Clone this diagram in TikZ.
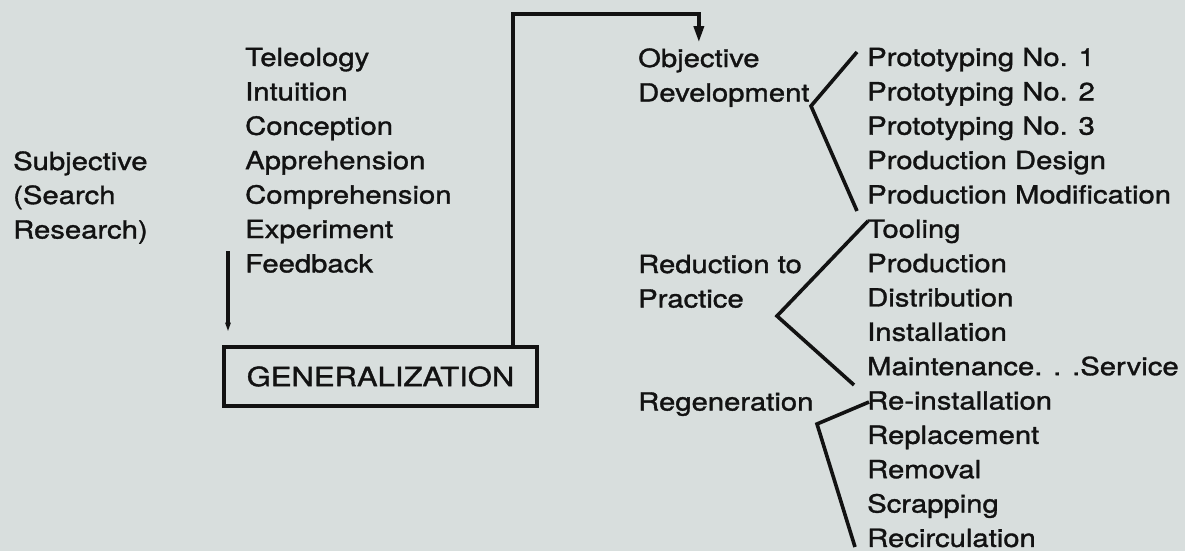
\documentclass[tikz,border=0pt]{standalone}
\usepackage{fontspec}
\setmainfont[FakeStretch=1.17, FakeBold=1.3]{TeX Gyre Heros}
\usetikzlibrary{arrows.meta}
\definecolor{paper}{RGB}{216,222,221}
\definecolor{ink}{RGB}{18,18,18}

\begin{document}
\begin{tikzpicture}[x=1pt,y=-1pt,
  lbl/.style={anchor=base west, inner sep=0pt, text=ink,
              font=\fontsize{25}{30}\selectfont},
  conn/.style={draw=ink, line width=3.4pt},
  brace/.style={draw=ink, line width=3.6pt, line join=miter},
  genbox/.style={draw=ink, line width=4.6pt, minimum width=313pt,
                 minimum height=59pt, inner sep=0pt, text=ink,
                 font=\fontsize{26.5}{30}\selectfont}]

% paper
\fill[paper] (0,0) rectangle (1185,551);
\useasboundingbox (0,0) rectangle (1185,551);

% subjective side
\node[lbl] (subj)  at (13,170)   {Subjective};
\node[lbl] (srch)  at (13,204)   {(Search};
\node[lbl] (resr)  at (13,238.5) {Research)};

\foreach \name/\txt [count=\i from 0] in
  {tel/Teleology, intu/Intuition, conc/Conception, appr/Apprehension,
   comp/Comprehension, expe/Experiment, feed/Feedback}
  \node[lbl] (\name) at (245,66+34.4*\i) {\txt};

% generalization box
\node[genbox] (gen) at (380.5,376.5) {GENERALIZATION};

% feedback arrow into the box
\coordinate (fbtop) at (228,251);
\draw[conn, shorten >=13pt, -{Triangle[width=5pt,length=9pt]}]
  (fbtop) -- (gen.north -| fbtop);

% objective side labels
\node[lbl] (obj)  at (638,67)    {Objective};
\node[lbl] (dev)  at (638,101.5) {Development};
\node[lbl] (red)  at (638,273)   {Reduction to};
\node[lbl] (prac) at (638,307.5) {Practice};
\node[lbl] (regn) at (638,410.5) {Regeneration};

% return line from the box up to the objective side
\coordinate (turn) at (513,14);
\draw[conn, shorten >=6pt, -{Triangle[width=10pt,length=16pt]}]
  (gen.north -| turn) -- (turn) -| (obj.north);

% stages
\foreach \name/\txt [count=\i from 0] in
  {pa/Prototyping No. 1, pb/Prototyping No. 2, pc/Prototyping No. 3,
   pd/Production Design, pm/Production Modification, tool/Tooling,
   prod/Production, dist/Distribution, inst/Installation,
   main/Maintenance. . .Service, rein/Re-installation, repl/Replacement,
   remo/Removal, scra/Scrapping, reci/Recirculation}
  \node[lbl] (\name) at (867,66+34.35*\i) {\txt};

% brackets
\coordinate (b1a) at (857,52);  \coordinate (b1v) at (811,106); \coordinate (b1b) at (857,211);
\coordinate (b2a) at (868,221); \coordinate (b2v) at (777,316); \coordinate (b2b) at (854,385);
\coordinate (b3a) at (869,402); \coordinate (b3v) at (817,424); \coordinate (b3b) at (855,547);
\draw[brace] (b1a) -- (b1v) -- (b1b);
\draw[brace] (b2a) -- (b2v) -- (b2b);
\draw[brace] (b3a) -- (b3v) -- (b3b);
\end{tikzpicture}
\end{document}
